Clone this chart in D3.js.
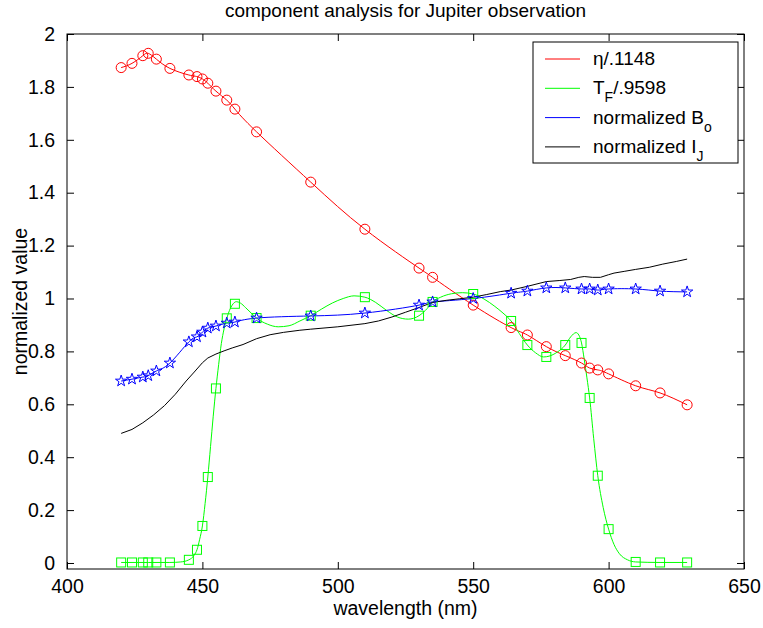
<!DOCTYPE html>
<html>
<head>
<meta charset="utf-8">
<script src="https://cdn.jsdelivr.net/npm/d3@7"></script>
<style>
  body { margin: 0; background: #fff; }
  svg { font-family: "Liberation Sans", Arial, Helvetica, sans-serif; }
</style>
</head>
<body>
<svg id="chart" width="763" height="628"></svg>
<script>
// wavelengths (nm) shared by the three marked series
const wavelengths = [420, 424, 428, 430, 433, 438, 445, 448, 450, 452, 455, 459, 462, 470, 490,
                     510, 530, 535, 550, 564, 570, 577, 584, 590, 593, 596, 600, 610, 619, 629];
const eta = [1.873, 1.889, 1.918, 1.927, 1.905, 1.87, 1.845, 1.839, 1.83, 1.814, 1.784, 1.75, 1.716, 1.63, 1.44,
             1.262, 1.115, 1.08, 0.975, 0.89, 0.862, 0.818, 0.784, 0.756, 0.737, 0.73, 0.715, 0.67, 0.643, 0.598];
const tf = [0.002, 0.002, 0.002, 0.002, 0.002, 0.002, 0.012, 0.05, 0.14, 0.325, 0.66, 0.925, 0.98, 0.926, 0.935,
            1.005, 0.935, 0.987, 1.017, 0.915, 0.824, 0.779, 0.824, 0.832, 0.624, 0.33, 0.128, 0.004, 0.002, 0.002];
const bo = [0.688, 0.695, 0.703, 0.708, 0.726, 0.756, 0.836, 0.855, 0.873, 0.888, 0.896, 0.907, 0.911, 0.926, 0.934,
            0.945, 0.975, 0.987, 1.0, 1.02, 1.028, 1.04, 1.04, 1.036, 1.036, 1.032, 1.036, 1.036, 1.028, 1.025];

// the green curve itself is finer than its markers (ripples between them)
const tfLineWave = [420, 430, 438, 442, 445, 447, 448, 449, 450, 451, 452, 453, 454, 455, 456, 457, 458, 459, 460,
                    461, 462.5, 464, 466, 468, 470, 474, 478, 482, 486, 490, 494, 498, 502, 506, 510, 514, 518,
                    522, 526, 530, 533, 535, 538, 542, 546, 550, 554, 558, 561, 564, 567, 570, 573, 576, 578,
                    581, 584, 586, 588, 589, 590, 591, 592, 593, 594.5, 596, 598, 600, 602, 604, 607, 610, 619, 629];
const tfLineVal = [0.002, 0.002, 0.002, 0.004, 0.012, 0.03, 0.05, 0.09, 0.14, 0.225, 0.325, 0.44, 0.555, 0.66,
                   0.75, 0.83, 0.885, 0.925, 0.955, 0.975, 0.988, 0.983, 0.965, 0.945, 0.926, 0.903, 0.893, 0.897,
                   0.915, 0.935, 0.96, 0.983, 1.0, 1.01, 1.005, 0.985, 0.955, 0.93, 0.922, 0.935, 0.962, 0.987,
                   1.005, 1.018, 1.022, 1.017, 0.998, 0.97, 0.945, 0.915, 0.868, 0.824, 0.795, 0.779, 0.782, 0.797,
                   0.824, 0.855, 0.871, 0.862, 0.832, 0.77, 0.7, 0.624, 0.47, 0.33, 0.21, 0.128, 0.07, 0.035,
                   0.012, 0.004, 0.002, 0.002];

// black curve, no markers
const ijWave = [420, 424, 428, 432, 436, 440, 444, 447, 450, 452, 455, 458, 461, 465, 470, 475, 480, 486, 490,
                500, 510, 515, 520, 525, 530, 535, 540, 545, 550, 555, 560, 564, 570, 577, 582, 586, 589, 591,
                594, 597, 600, 602, 606, 610, 615, 620, 625, 629];
const ijVal = [0.49, 0.505, 0.53, 0.56, 0.595, 0.638, 0.688, 0.722, 0.757, 0.775, 0.79, 0.802, 0.813, 0.826, 0.848,
               0.863, 0.872, 0.88, 0.884, 0.893, 0.905, 0.915, 0.93, 0.948, 0.966, 0.985, 0.993, 0.999, 1.005, 1.015,
               1.026, 1.032, 1.046, 1.064, 1.068, 1.072, 1.08, 1.083, 1.08, 1.08, 1.09, 1.096, 1.103, 1.11, 1.118,
               1.13, 1.14, 1.149];

const xTicks = [400, 450, 500, 550, 600, 650];
const yTicks = [0, 0.2, 0.4, 0.6, 0.8, 1, 1.2, 1.4, 1.6, 1.8, 2];

const margin = { top: 34, right: 19, bottom: 59, left: 67 },
      width = 763 - margin.left - margin.right,
      height = 628 - margin.top - margin.bottom;

const svg = d3.select("#chart");
const g = svg.append("g").attr("transform", `translate(${margin.left},${margin.top})`);

const x = d3.scaleLinear().domain([400, 650]).range([0, width]);
const y = d3.scaleLinear().domain([-0.0227, 2]).range([height, 0]);

// axes with inward ticks on all four sides
const fmt = d => String(d);
g.append("g").attr("transform", `translate(0,${height})`)
  .call(d3.axisBottom(x).tickValues(xTicks).tickSize(-7).tickPadding(10).tickFormat(fmt));
g.append("g")
  .call(d3.axisTop(x).tickValues(xTicks).tickSize(-7).tickFormat(""));
g.append("g")
  .call(d3.axisLeft(y).tickValues(yTicks).tickSize(-7).tickPadding(12).tickFormat(fmt));
g.append("g").attr("transform", `translate(${width},0)`)
  .call(d3.axisRight(y).tickValues(yTicks).tickSize(-7).tickFormat(""));

g.selectAll(".domain").remove();
g.selectAll(".tick line").attr("stroke", "#000");
g.selectAll(".tick text").attr("fill", "#000").style("font-size", "19.5px");

g.append("rect")
  .attr("width", width).attr("height", height)
  .attr("fill", "none").attr("stroke", "#000").attr("stroke-width", 1);

// series
const pts = vals => wavelengths.map((w, i) => [w, vals[i]]);
const spline = d3.line().x(d => x(d[0])).y(d => y(d[1])).curve(d3.curveNatural);
const smooth = d3.line().x(d => x(d[0])).y(d => y(d[1])).curve(d3.curveMonotoneX);
const straight = d3.line().x(d => x(d[0])).y(d => y(d[1]));

g.append("path").attr("d", spline(pts(eta))).attr("fill", "none").attr("stroke", "#ff0000");
g.append("path").attr("d", smooth(tfLineWave.map((w, i) => [w, tfLineVal[i]])))
  .attr("fill", "none").attr("stroke", "#00ff00");
g.append("path").attr("d", spline(pts(bo))).attr("fill", "none").attr("stroke", "#0000ff");
g.append("path").attr("d", straight(ijWave.map((w, i) => [w, ijVal[i]])))
  .attr("fill", "none").attr("stroke", "#000");

// markers
g.selectAll(".circ").data(pts(eta)).enter().append("circle")
  .attr("cx", d => x(d[0])).attr("cy", d => y(d[1])).attr("r", 5)
  .attr("fill", "none").attr("stroke", "#ff0000");
g.selectAll(".sq").data(pts(tf)).enter().append("rect")
  .attr("x", d => x(d[0]) - 4.5).attr("y", d => y(d[1]) - 4.5)
  .attr("width", 9).attr("height", 9)
  .attr("fill", "none").attr("stroke", "#00ff00");
const star = d3.symbol().type(d3.symbolStar).size(40);
g.selectAll(".star").data(pts(bo)).enter().append("path")
  .attr("d", star)
  .attr("transform", d => `translate(${x(d[0])},${y(d[1])})`)
  .attr("fill", "none").attr("stroke", "#0000ff");

// title and labels
svg.append("text")
  .attr("x", margin.left + width / 2).attr("y", 17)
  .attr("text-anchor", "middle").style("font-size", "19px")
  .text("component analysis for Jupiter observation");
svg.append("text")
  .attr("x", margin.left + width / 2).attr("y", 615)
  .attr("text-anchor", "middle").style("font-size", "19.5px")
  .text("wavelength (nm)");
svg.append("text")
  .attr("transform", `translate(27,${margin.top + height / 2}) rotate(-90)`)
  .attr("text-anchor", "middle").style("font-size", "19.5px")
  .text("normalized value");

// legend
const legend = svg.append("g").attr("transform", "translate(533,42)");
legend.append("rect").attr("width", 205).attr("height", 121)
  .attr("fill", "#fff").attr("stroke", "#000");
const entries = [
  { color: "#ff0000", main: "\u03b7/.1148", sub: "", rest: "" },
  { color: "#00ff00", main: "T", sub: "F", rest: "/.9598" },
  { color: "#0000ff", main: "normalized B", sub: "o", rest: "" },
  { color: "#000000", main: "normalized I", sub: "J", rest: "" }
];
entries.forEach((e, i) => {
  const cy = 17 + i * 29.3;
  legend.append("line").attr("x1", 12).attr("x2", 47).attr("y1", cy).attr("y2", cy)
    .attr("stroke", e.color);
  const t = legend.append("text").attr("x", 60).attr("y", cy + 6).style("font-size", "19px");
  t.append("tspan").text(e.main);
  if (e.sub) t.append("tspan").attr("dy", 8).style("font-size", "14px").text(e.sub);
  if (e.rest) t.append("tspan").attr("dy", -8).text(e.rest);
});
</script>
</body>
</html>
